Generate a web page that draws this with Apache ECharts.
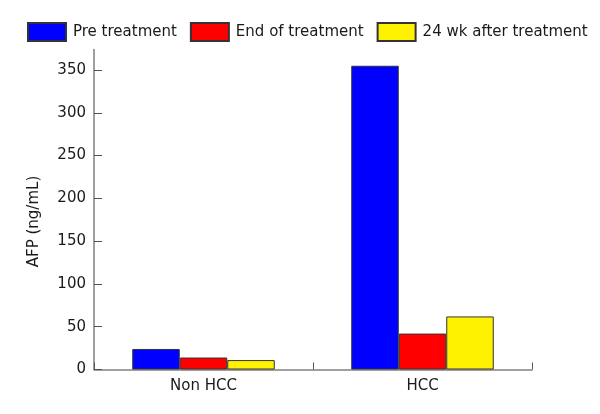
<!DOCTYPE html>
<html>
<head>
<meta charset="utf-8">
<script src="https://cdn.jsdelivr.net/npm/echarts@6/dist/echarts.min.js"></script>
<style>html,body{margin:0;padding:0;background:#fff}#c{width:600px;height:414px}</style>
</head>
<body>
<div id="c"></div>
<script>
var categories = ['Non HCC', 'HCC'];
var seriesNames = ['Pre treatment', 'End of treatment', '24 wk after treatment'];
var preTreatment = [24, 355];
var endOfTreatment = [14, 42];
var after24wk = [11, 62];
var yTicks = [0, 50, 100, 150, 200, 250, 300, 350];
var yAxisName = 'AFP (ng/mL)';

var colors = ['#0000ff', '#ff0000', '#fff200'];
var font = 'DejaVu Sans';
var chart = echarts.init(document.getElementById('c'));
var dataSets = [preTreatment, endOfTreatment, after24wk];
chart.setOption({
  animation: false,
  textStyle: {fontFamily: font},
  legend: {
    left: 22, top: 17, itemWidth: 38, itemHeight: 18, itemGap: 13,
    icon: 'rect',
    textStyle: {fontFamily: font, fontSize: 15, color: '#1a1a1a', padding: [0, 0, 0, 2]},
    data: seriesNames
  },
  grid: {left: 94, right: 68, top: 49.5, bottom: 44.5},
  xAxis: {
    type: 'category', data: categories,
    axisLine: {lineStyle: {color: '#808080', width: 1.5}},
    axisTick: {show: true, interval: 0, inside: true, length: 7, lineStyle: {color: '#555', width: 1}},
    axisLabel: {fontFamily: font, fontSize: 15, color: '#1a1a1a', margin: 9}
  },
  yAxis: {
    type: 'value', min: 0, max: 374, interval: 50,
    name: yAxisName, nameLocation: 'middle', nameGap: 52,
    nameTextStyle: {fontFamily: font, fontSize: 15, color: '#1a1a1a', padding: [0, 24, 0, 0]},
    splitLine: {show: false},
    axisLine: {show: true, lineStyle: {color: '#808080', width: 1.5}},
    axisTick: {show: true, inside: true, length: 8, lineStyle: {color: '#555'}, customValues: yTicks},
    axisLabel: {fontFamily: font, fontSize: 15, color: '#1a1a1a', margin: 8, customValues: yTicks}
  },
  series: seriesNames.map(function (n, i) {
    return {
      name: n, type: 'bar', data: dataSets[i],
      barWidth: 47.5, barGap: '0%',
      itemStyle: {color: colors[i], borderColor: '#333', borderWidth: 1}
    };
  })
});
</script>
</body>
</html>
